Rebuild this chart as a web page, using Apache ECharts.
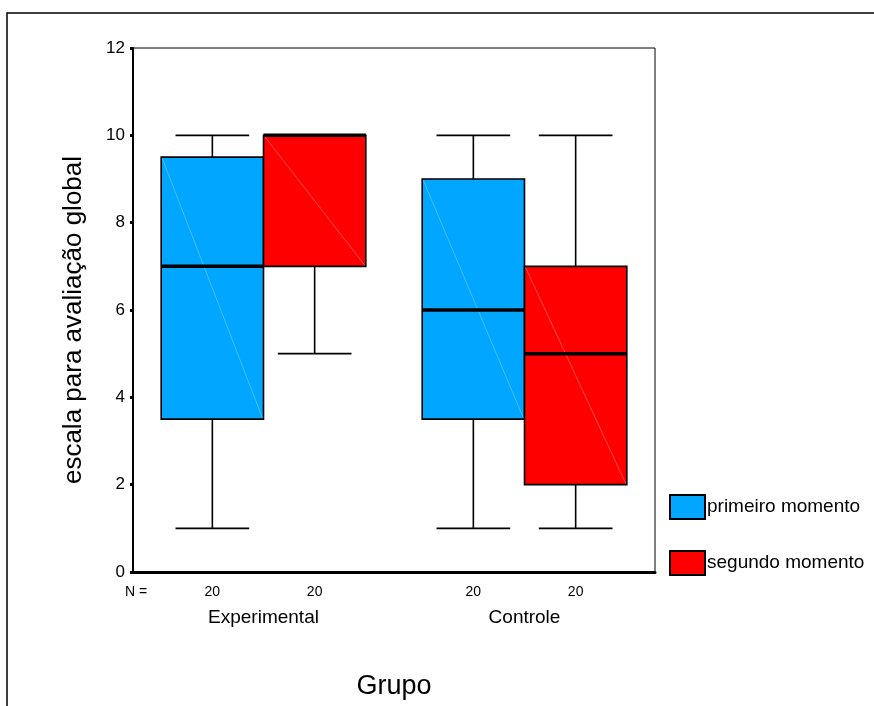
<!DOCTYPE html>
<html>
<head>
<meta charset="utf-8">
<title>escala para avaliação global</title>
<script src="https://cdn.jsdelivr.net/npm/echarts@6/dist/echarts.min.js"></script>
<style>
    html, body { margin: 0; padding: 0; background: #fff; }
    #main { width: 874px; height: 706px; }
</style>
</head>
<body>
<div id="main"></div>
<script>
// grupos no eixo x
var grupos = ['Experimental', 'Controle'];
var momentos = ['primeiro momento', 'segundo momento'];
// [grupo, min, q1, mediana, q3, max]
var primeiro = [
    [0, 1, 3.5, 7, 9.5, 10],
    [1, 1, 3.5, 6, 9, 10]
];
var segundo = [
    [0, 5, 7, 10, 10, 10],
    [1, 1, 2, 5, 7, 10]
];
var nCasos = [[20, 20], [20, 20]]; // N por momento e grupo
var yTicks = [0, 2, 4, 6, 8, 10, 12];

var cores = ['#00a6ff', '#ff0000'];
var diagCores = ['#6fcfff', '#ff8080'];
var fonte = '"Liberation Sans", Arial, sans-serif';

function makeRender(idx) {
    var side = idx === 0 ? -1 : 1;
    return function (params, api) {
        var g = api.value(0);
        var band = api.size([1, 0])[0];
        var w = band * 0.392;
        var center = api.coord([g, 0])[0];
        var x0 = side < 0 ? center - w : center;
        var mid = x0 + w / 2;
        var yMin = api.coord([g, api.value(1)])[1];
        var yQ1 = api.coord([g, api.value(2)])[1];
        var yMed = api.coord([g, api.value(3)])[1];
        var yQ3 = api.coord([g, api.value(4)])[1];
        var yMax = api.coord([g, api.value(5)])[1];
        var yBase = api.coord([g, 0])[1];
        var cap = w * 0.36;
        var st = {stroke: '#000', lineWidth: 1.6};

        var children = [
            // bigodes
            {type: 'line', shape: {x1: mid, y1: yQ3, x2: mid, y2: yMax}, style: st},
            {type: 'line', shape: {x1: mid, y1: yQ1, x2: mid, y2: yMin}, style: st},
            {type: 'line', shape: {x1: mid - cap, y1: yMax, x2: mid + cap, y2: yMax}, style: st},
            {type: 'line', shape: {x1: mid - cap, y1: yMin, x2: mid + cap, y2: yMin}, style: st},
            // caixa
            {type: 'rect', shape: {x: x0, y: yQ3, width: w, height: yQ1 - yQ3},
                style: {fill: cores[idx], stroke: '#000', lineWidth: 1.6}},
            {type: 'line', shape: {x1: x0 + 1, y1: yQ3 + 1, x2: x0 + w - 1, y2: yQ1 - 1},
                style: {stroke: diagCores[idx], lineWidth: 0.6}},
            // mediana
            {type: 'line', shape: {x1: x0, y1: yMed, x2: x0 + w, y2: yMed},
                style: {stroke: '#000', lineWidth: 3.5}},
            // N
            {type: 'text', style: {x: mid, y: yBase + 20, text: String(nCasos[idx][params.dataIndex]),
                fill: '#000', font: '14px ' + fonte,
                align: 'center', verticalAlign: 'middle'}}
        ];
        if (idx === 0 && params.dataIndex === 0) {
            children.push({type: 'text', style: {x: center - band / 2 + 3, y: yBase + 20, text: 'N =',
                fill: '#000', font: '14px ' + fonte,
                align: 'center', verticalAlign: 'middle'}});
        }
        return {type: 'group', children: children};
    };
}

var myChart = echarts.init(document.getElementById('main'));

var option = {
    animation: false,
    textStyle: {fontFamily: fonte, color: '#000'},
    graphic: [{
        type: 'rect',
        shape: {x: 7, y: 13, width: 900, height: 800},
        style: {fill: 'none', stroke: '#000', lineWidth: 1.5},
        silent: true
    }],
    grid: {
        left: 133, top: 48, width: 522, height: 524,
        show: true, borderColor: '#000', borderWidth: 1, backgroundColor: 'transparent'
    },
    legend: {
        orient: 'vertical',
        left: 669, top: 494,
        itemWidth: 35, itemHeight: 24, itemGap: 30,
        padding: 0,
        icon: 'rect',
        selectedMode: false,
        textStyle: {fontSize: 19, color: '#000', padding: [0, 0, 0, -3]},
        data: momentos
    },
    xAxis: {
        type: 'category',
        data: grupos,
        name: 'Grupo',
        nameLocation: 'middle',
        nameGap: 101,
        nameTextStyle: {fontSize: 27, color: '#000'},
        axisLine: {lineStyle: {color: '#000', width: 3}},
        axisTick: {alignWithLabel: true, length: 3, lineStyle: {color: '#000', width: 3}},
        axisLabel: {fontSize: 19, color: '#000', margin: 36},
        splitLine: {show: false}
    },
    yAxis: {
        type: 'value',
        min: 0, max: 12, interval: 2,
        name: 'escala para avaliação global',
        nameLocation: 'middle',
        nameGap: 46,
        nameTextStyle: {fontSize: 26, color: '#000', padding: [0, 20, 0, 0]},
        axisLine: {show: true, lineStyle: {color: '#000', width: 2}},
        axisTick: {show: true, length: 3, lineStyle: {color: '#000', width: 3}},
        axisLabel: {fontSize: 17, color: '#000', margin: 8,
            formatter: function (v) { return yTicks.indexOf(v) >= 0 ? String(v) : ''; }},
        splitLine: {show: false}
    },
    series: [
        {
            name: momentos[0],
            type: 'custom',
            renderItem: makeRender(0),
            itemStyle: {color: cores[0], borderColor: '#000', borderWidth: 1.5},
            encode: {x: 0, y: [1, 2, 3, 4, 5]},
            data: primeiro,
            z: 3
        },
        {
            name: momentos[1],
            type: 'custom',
            renderItem: makeRender(1),
            itemStyle: {color: cores[1], borderColor: '#000', borderWidth: 1.5},
            encode: {x: 0, y: [1, 2, 3, 4, 5]},
            data: segundo,
            z: 3
        }
    ]
};

myChart.setOption(option);
</script>
</body>
</html>
